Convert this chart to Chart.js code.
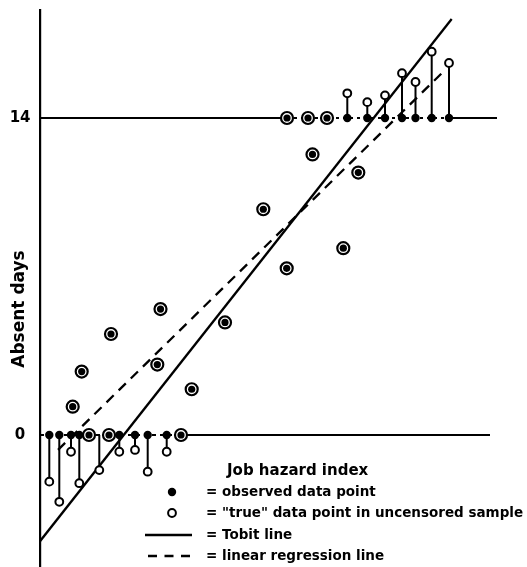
<!DOCTYPE html>
<html>
<head>
<meta charset="utf-8">
<title>Tobit line vs linear regression line</title>
<script src="https://cdn.jsdelivr.net/npm/chart.js@4.4.1/dist/chart.umd.min.js"></script>
<style>
  html, body { margin: 0; padding: 0; background: #fff; }
  #wrap { width: 527px; height: 567px; position: relative; }
</style>
</head>
<body>
<div id="wrap"><canvas id="tobitChart"></canvas></div>
<script>
/* ============================================
   Censored sample: Tobit vs. linear regression
   ============================================ */

// x = job hazard index (no scale printed), y = absent days
const yTicks = [0, 14];
const limits = [0, 14];          // lower / upper censoring limit

// points where observed == true (inside the limits, or exactly on one)
const fullX = [3.27, 4.17, 7.10, 12.05, 11.73, 15.17, 18.5, 22.33, 24.67, 27.25, 31.83, 30.33, 4.9, 6.9, 14.1, 24.7, 26.8, 28.7];
const fullY = [1.25, 2.80, 4.46, 5.56, 3.11, 2.02, 4.97, 9.97, 7.36, 12.39, 11.59, 8.25, 0, 0, 0, 14, 14, 14];

// censored at 0: observed 0, "true" value below it
const lowX = [0.93, 1.93, 3.10, 3.93, 5.93, 7.93, 9.50, 10.77, 12.67];
const lowTrue = [-2.06, -2.95, -0.74, -2.13, -1.55, -0.74, -0.66, -1.62, -0.74];
const lowNoDot = [4];            // observed dot not printed for this one

// censored at 14: observed 14, "true" value above it
const highX = [30.73, 32.73, 34.5, 36.2, 37.55, 39.17, 40.9];
const highTrue = [15.09, 14.70, 15.00, 15.98, 15.59, 16.93, 16.43];

// fitted lines (end points)
const tobitX = [0, 41.17];
const tobitY = [-4.69, 18.37];
const olsX = [1.8, 40.6];
const olsY = [-0.66, 16.16];

// limit lines: start, break points, end
const lowLineX = [0, 14.1, 45.0];
const highLineX = [0, 24.7, 40.9, 45.7];

const keyTitle = 'Job hazard index';
const keyLabels = [
    '= observed data point',
    '= "true" data point in uncensored sample',
    '= Tobit line',
    '= linear regression line'
];

const INK = '#000';
const FONT = "'DejaVu Sans', sans-serif";

const pts = (xs, ys) => xs.map((x, i) => ({ x: x, y: ys[i] }));
const flat = (xs, v) => xs.map(x => ({ x: x, y: v }));

const stems = [];
lowX.forEach((x, i) => stems.push({ x: x, y: limits[0] }, { x: x, y: lowTrue[i] }, { x: x, y: null }));
highX.forEach((x, i) => stems.push({ x: x, y: limits[1] }, { x: x, y: highTrue[i] }, { x: x, y: null }));

// y title sits in the tick label column, key sits inside the plot
const keyPlugin = {
    id: 'key',
    afterDraw(chart) {
        const ctx = chart.ctx;
        ctx.save();
        ctx.fillStyle = INK;
        ctx.strokeStyle = INK;
        ctx.textBaseline = 'middle';

        ctx.save();
        ctx.translate(20, 309);
        ctx.rotate(-Math.PI / 2);
        ctx.textAlign = 'center';
        ctx.font = 'bold 17px ' + FONT;
        ctx.fillText('Absent days', 0, 0);
        ctx.restore();

        ctx.textAlign = 'left';
        ctx.font = 'bold 15px ' + FONT;
        ctx.fillText(keyTitle, 227, 471);

        const rows = [492, 513, 535, 556];
        ctx.font = 'bold 13.5px ' + FONT;
        keyLabels.forEach((t, i) => ctx.fillText(t, 206, rows[i]));

        // markers
        ctx.beginPath();
        ctx.arc(172, rows[0], 4.2, 0, Math.PI * 2);
        ctx.fill();

        ctx.beginPath();
        ctx.arc(172, rows[1], 3.9, 0, Math.PI * 2);
        ctx.fillStyle = '#fff';
        ctx.fill();
        ctx.lineWidth = 2;
        ctx.stroke();

        ctx.lineWidth = 2.3;
        ctx.beginPath();
        ctx.moveTo(145, rows[2]);
        ctx.lineTo(192, rows[2]);
        ctx.stroke();

        ctx.setLineDash([9, 7.5]);
        ctx.beginPath();
        ctx.moveTo(148, rows[3]);
        ctx.lineTo(190, rows[3]);
        ctx.stroke();
        ctx.restore();
    }
};

new Chart(document.getElementById('tobitChart'), {
    type: 'scatter',
    data: {
        datasets: [
            {   // inner dot of the circled points
                data: pts(fullX, fullY),
                pointRadius: 3.6,
                pointBackgroundColor: INK,
                pointBorderWidth: 0,
                order: 0
            },
            {   // ring of the circled points
                data: pts(fullX, fullY),
                pointRadius: 6,
                pointBackgroundColor: '#fff',
                pointBorderColor: INK,
                pointBorderWidth: 2.2,
                order: 1
            },
            {   // observed (censored) values
                data: flat(lowX, limits[0]).concat(flat(highX, limits[1])),
                pointRadius: ctx => lowNoDot.includes(ctx.dataIndex) ? 0 : 4.2,
                pointBackgroundColor: INK,
                pointBorderWidth: 0,
                order: 2
            },
            {   // "true" values
                data: pts(lowX, lowTrue).concat(pts(highX, highTrue)),
                pointRadius: 3.9,
                pointBackgroundColor: '#fff',
                pointBorderColor: INK,
                pointBorderWidth: 2,
                order: 3
            },
            {   // stems from observed to true
                data: stems,
                showLine: true,
                spanGaps: false,
                borderColor: INK,
                borderWidth: 2,
                pointRadius: 0,
                order: 4
            },
            {   // Tobit line
                data: pts(tobitX, tobitY),
                showLine: true,
                borderColor: INK,
                borderWidth: 2.3,
                pointRadius: 0,
                order: 5
            },
            {   // linear regression line
                data: pts(olsX, olsY),
                showLine: true,
                borderColor: INK,
                borderWidth: 2.3,
                borderDash: [10, 7],
                pointRadius: 0,
                order: 6
            },
            {   // lower limit
                data: flat(lowLineX, limits[0]),
                showLine: true,
                borderColor: INK,
                borderWidth: 2,
                pointRadius: 0,
                segment: { borderDash: c => c.p0DataIndex === 0 ? [4, 4] : undefined },
                order: 7
            },
            {   // upper limit
                data: flat(highLineX, limits[1]),
                showLine: true,
                borderColor: INK,
                borderWidth: 2,
                pointRadius: 0,
                segment: { borderDash: c => c.p0DataIndex === 1 ? [3, 4] : undefined },
                order: 8
            }
        ]
    },
    options: {
        responsive: true,
        maintainAspectRatio: false,
        animation: false,
        events: [],
        layout: { autoPadding: false, padding: { top: 10, right: 0, bottom: 0, left: 0 } },
        plugins: {
            legend: { display: false },
            tooltip: { enabled: false }
        },
        scales: {
            x: {
                type: 'linear',
                display: false,
                min: 0,
                max: 48.7
            },
            y: {
                type: 'linear',
                position: 'left',
                min: -5.83,
                max: 18.77,
                afterFit: axis => {
                    axis.width = 40;
                    axis.paddingTop = 0;
                    axis.paddingBottom = 0;
                },
                afterBuildTicks: axis => { axis.ticks = yTicks.map(v => ({ value: v })); },
                grid: { display: false, drawTicks: false },
                border: { display: true, color: INK, width: 2.2 },
                ticks: {
                    color: INK,
                    padding: 9.5,
                    crossAlign: 'center',
                    font: { family: FONT, size: 15, weight: 'bold' }
                }
            }
        }
    },
    plugins: [keyPlugin]
});
</script>
</body>
</html>
